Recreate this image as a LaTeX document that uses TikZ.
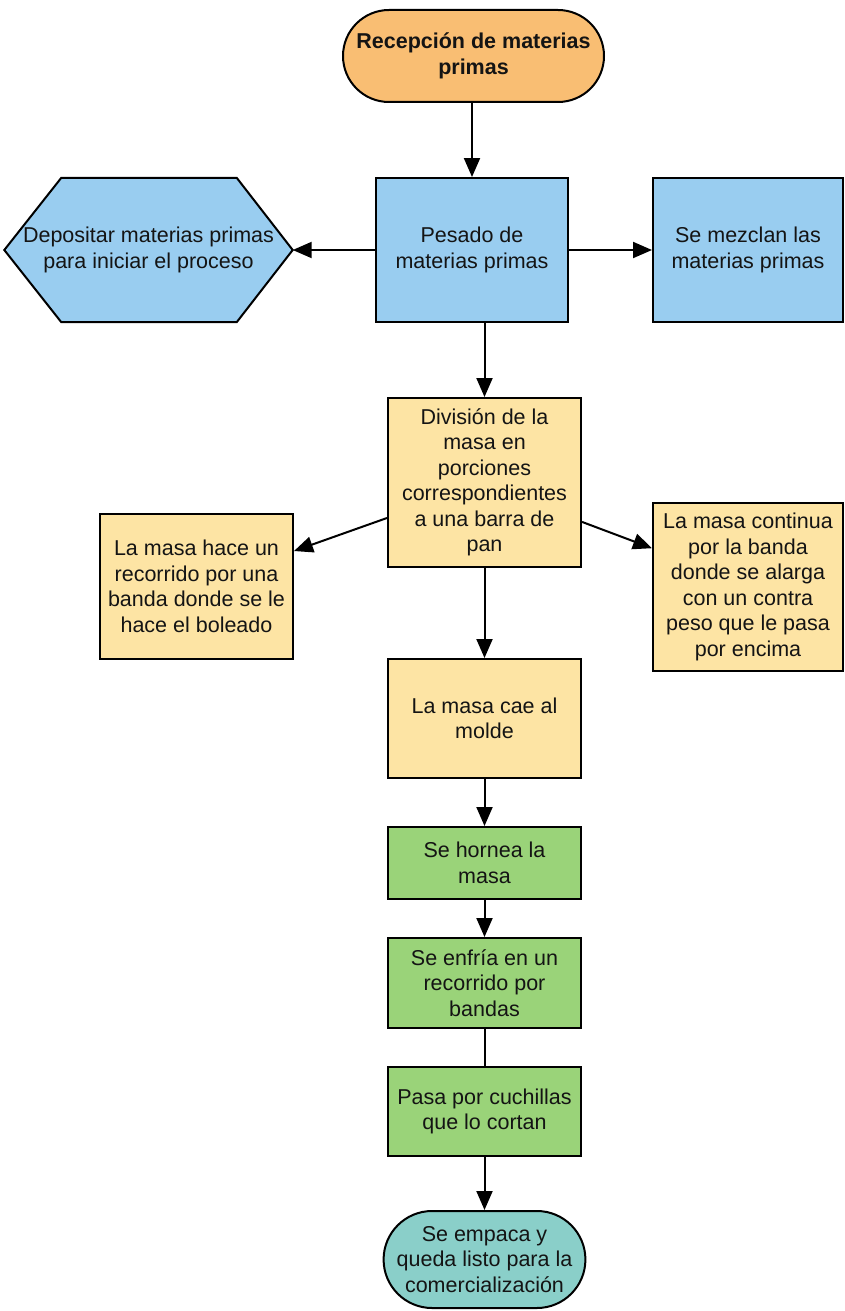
\documentclass[tikz,border=0pt]{standalone}
\usepackage{fontspec}
\setmainfont{Liberation Sans}
\usetikzlibrary{arrows.meta,shapes.misc,calc,backgrounds}
\definecolor{orangeF}{HTML}{F9BE73}
\definecolor{blueF}{HTML}{99CDF0}
\definecolor{yellowF}{HTML}{FDE4A4}
\definecolor{greenF}{HTML}{9AD379}
\definecolor{tealF}{HTML}{8ACFC9}
\definecolor{txt}{HTML}{141414}
\begin{document}
\begin{tikzpicture}[x=1pt,y=-1pt,
  every node/.style={font=\fontsize{21.5}{25.5}\selectfont, align=center, text=txt, inner sep=0pt},
  box/.style={draw=black, line width=2pt, rectangle},
  term/.style={draw=black, line width=2pt, rounded rectangle},
  arr/.style={line width=2pt, -{Triangle[length=19pt,width=16pt]}},
  plain/.style={line width=2pt}
]
\useasboundingbox (0,0) rectangle (844,1311);

% nodes
\node[term, fill=orangeF, minimum width=261, minimum height=92, font=\fontsize{21.5}{25.5}\selectfont\bfseries] (rec) at (473.5,56) {Recepción de materias\\primas};
\node[box, fill=blueF, minimum width=192, minimum height=144] (pes) at (472,250) {Pesado de\\materias primas};
\node[minimum width=288, minimum height=144] (hex) at (148.5,250) {Depositar materias primas\\para iniciar el proceso};
\node[box, fill=blueF, minimum width=190, minimum height=144] (mez) at (748,250) {Se mezclan las\\materias primas};
\node[box, fill=yellowF, minimum width=193, minimum height=169] (div) at (484.5,482.5) {División de la\\masa en\\porciones\\correspondientes\\a una barra de\\pan};
\node[box, fill=yellowF, minimum width=193, minimum height=145] (bol) at (196.5,586.5) {La masa hace un\\recorrido por una\\banda donde se le\\hace el boleado};
\node[box, fill=yellowF, minimum width=190, minimum height=168] (alg) at (748,587) {La masa continua\\por la banda\\donde se alarga\\con un contra\\peso que le pasa\\por encima};
\node[box, fill=yellowF, minimum width=193, minimum height=119] (mol) at (484.5,718.5) {La masa cae al\\molde};
\node[box, fill=greenF, minimum width=193, minimum height=72] (hor) at (484.5,863) {Se hornea la\\masa};
\node[box, fill=greenF, minimum width=193, minimum height=90] (enf) at (484.5,983) {Se enfría en un\\recorrido por\\bandas};
\node[box, fill=greenF, minimum width=193, minimum height=89] (cor) at (484.5,1111.5) {Pasa por cuchillas\\que lo cortan};
\node[term, fill=tealF, minimum width=193, minimum height=97] (emp) at (484.5,1259.5) {Se empaca y\\queda listo para la\\comercialización};

% hexagon outline behind its text
\begin{scope}[on background layer]
\draw[fill=blueF, line width=2pt, line join=miter]
  (hex.west) -- ($(hex.north west)+(57,0)$) -- ($(hex.north east)+(-56,0)$)
  -- (hex.east) -- ($(hex.south east)+(-56,0)$) -- ($(hex.south west)+(57,0)$) -- cycle;
\end{scope}

% connectors
\draw[arr] (rec.south -| pes.north) -- (pes.north);
\draw[arr] (pes.west) -- (hex.east);
\draw[arr] (pes.east) -- (mez.west);
\draw[arr] (pes.south -| div.north) -- (div.north);
\draw[arr] (div.200) -- (bol.20);
\draw[arr] (div.-22) -- (alg.158);
\draw[arr] (div.south) -- (mol.north);
\draw[arr] (mol.south) -- (hor.north);
\draw[arr] (hor.south) -- (enf.north);
\draw[plain] (enf.south) -- (cor.north);
\draw[arr] (cor.south) -- (emp.north);
\end{tikzpicture}
\end{document}
